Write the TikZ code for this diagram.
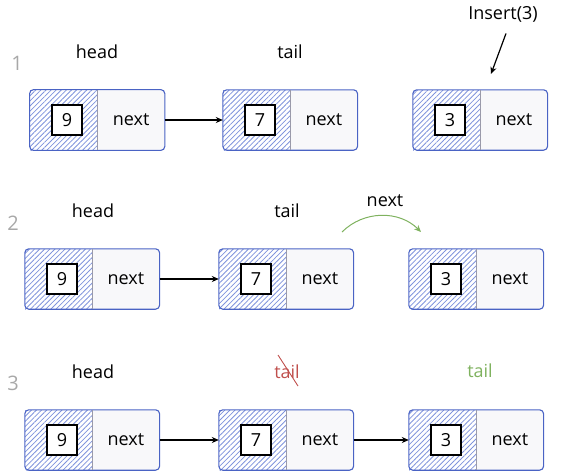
\documentclass[tikz,border=0pt]{standalone}
\usepackage{fontspec}
\setmainfont{Open Sans}
\usetikzlibrary{arrows.meta, positioning, fit, patterns.meta, calc}
\definecolor{edgeblue}{HTML}{4A63C4}
\definecolor{hatchblue}{HTML}{7F93DC}
\definecolor{paper}{HTML}{F8F8FA}
\definecolor{divgray}{HTML}{9A9AAA}
\definecolor{rowgray}{HTML}{A8A8A8}
\definecolor{crossred}{HTML}{C0504D}
\definecolor{newgreen}{HTML}{7FB25F}
\tikzset{
    datahalf/.style={rectangle, minimum width=67pt, minimum height=60pt, inner sep=0pt,
      pattern={Lines[angle=45, distance=3.6pt, line width=0.8pt]}, pattern color=hatchblue},
    nexthalf/.style={rectangle, minimum width=67pt, minimum height=60pt, inner sep=0pt, fill=paper},
    outline/.style={rectangle, draw=edgeblue, line width=1.1pt, rounded corners=4pt, inner sep=0pt},
    valbox/.style={rectangle, draw=black, fill=white, line width=1.3pt, minimum size=30pt, inner sep=0pt},
    divider/.style={draw=divgray, line width=0.8pt},
    rownum/.style={text=rowgray, font=\fontsize{20}{20}\selectfont},
    ptr/.style={draw=black, line width=1.2pt, -{Stealth[length=7pt, width=6pt]}},
}

\begin{document}
\begin{tikzpicture}[x=1pt, y=-1pt, font=\fontsize{18}{21}\selectfont]
    \useasboundingbox (0,0) rectangle (565,472);

    % 1
    \node[rownum] (r1) at (17,63) {1};
    \node (h1) at (97,52) {head};
    \node (t1) at (290,52) {tail};
    \node (ins) at (503,14) {Insert(3)};

    \node[datahalf] (d11) at (63.5,120) {};
    \node[nexthalf, right=0pt of d11] (n11) {next};
    \node[valbox, xshift=3.5pt] (v11) at (d11) {9};
    \node[outline, fit=(d11)(n11)] (b11) {};
    \draw[divider] (n11.north west) -- (n11.south west);

    \node[datahalf] (d12) at (256.5,120) {};
    \node[nexthalf, right=0pt of d12] (n12) {next};
    \node[valbox, xshift=3.5pt] (v12) at (d12) {7};
    \node[outline, fit=(d12)(n12)] (b12) {};
    \draw[divider] (n12.north west) -- (n12.south west);

    \node[datahalf] (d13) at (446.5,120) {};
    \node[nexthalf, right=0pt of d13] (n13) {next};
    \node[valbox, xshift=3.5pt] (v13) at (d13) {3};
    \node[outline, fit=(d13)(n13)] (b13) {};
    \draw[divider] (n13.north west) -- (n13.south west);

    \draw[ptr] (n11.east) -- (d12.west);
    \coordinate (insend) at (491,74);
    \draw[ptr] ([shift={(3,8)}]ins.south) -- (insend);

    % 2
    \node[rownum] (r2) at (13,223) {2};
    \node (h2) at (93,211) {head};
    \node (t2) at (287,211) {tail};
    \node (nl) at (385,201) {next};

    \node[datahalf] (d21) at (58.5,279) {};
    \node[nexthalf, right=0pt of d21] (n21) {next};
    \node[valbox, xshift=3.5pt] (v21) at (d21) {9};
    \node[outline, fit=(d21)(n21)] (b21) {};
    \draw[divider] (n21.north west) -- (n21.south west);

    \node[datahalf] (d22) at (252.5,279) {};
    \node[nexthalf, right=0pt of d22] (n22) {next};
    \node[valbox, xshift=3.5pt] (v22) at (d22) {7};
    \node[outline, fit=(d22)(n22)] (b22) {};
    \draw[divider] (n22.north west) -- (n22.south west);

    \node[datahalf] (d23) at (442.5,279) {};
    \node[nexthalf, right=0pt of d23] (n23) {next};
    \node[valbox, xshift=3.5pt] (v23) at (d23) {3};
    \node[outline, fit=(d23)(n23)] (b23) {};
    \draw[divider] (n23.north west) -- (n23.south west);

    \draw[ptr] (n21.east) -- (d22.west);
    \coordinate (arcstart) at (342,232);
    \coordinate (arcend) at (421,232);
    \draw[ptr, draw=newgreen, line width=1pt] (arcstart) to[bend left=45] (arcend);

    % 3
    \node[rownum] (r3) at (13,383) {3};
    \node (h3) at (93,372) {head};
    \node[text=crossred] (t32) at (287,372) {tail};
    \node[text=newgreen] (t33) at (480,371) {tail};
    \draw[crossred, line width=0.9pt] ([shift={(-9,-17)}]t32.center) -- ([shift={(11,14)}]t32.center);

    \node[datahalf] (d31) at (58.5,440) {};
    \node[nexthalf, right=0pt of d31] (n31) {next};
    \node[valbox, xshift=3.5pt] (v31) at (d31) {9};
    \node[outline, fit=(d31)(n31)] (b31) {};
    \draw[divider] (n31.north west) -- (n31.south west);

    \node[datahalf] (d32) at (252.5,440) {};
    \node[nexthalf, right=0pt of d32] (n32) {next};
    \node[valbox, xshift=3.5pt] (v32) at (d32) {7};
    \node[outline, fit=(d32)(n32)] (b32) {};
    \draw[divider] (n32.north west) -- (n32.south west);

    \node[datahalf] (d33) at (442.5,440) {};
    \node[nexthalf, right=0pt of d33] (n33) {next};
    \node[valbox, xshift=3.5pt] (v33) at (d33) {3};
    \node[outline, fit=(d33)(n33)] (b33) {};
    \draw[divider] (n33.north west) -- (n33.south west);

    \draw[ptr] (n31.east) -- (d32.west);
    \draw[ptr] (n32.east) -- (d33.west);
\end{tikzpicture}
\end{document}
